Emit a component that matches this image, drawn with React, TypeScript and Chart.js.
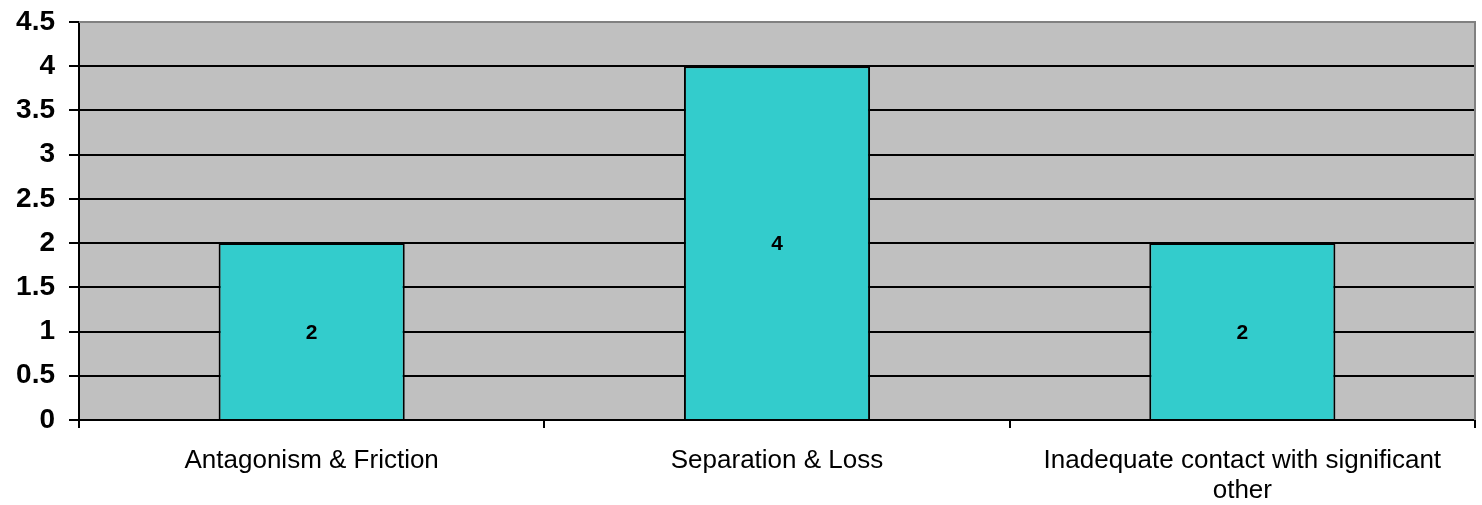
import React, { useEffect, useRef } from "react";
import { Chart, registerables } from "chart.js";

Chart.register(...registerables);

const categories: (string | string[])[] = [
  "Antagonism & Friction",
  "Separation & Loss",
  ["Inadequate contact with significant", "other"],
];
const values: number[] = [2, 4, 2];
const yMin = 0;
const yMax = 4.5;
const yStep = 0.5;

const FONT = "'Liberation Sans', Arial, Helvetica, sans-serif";

const plotBg = {
  id: "plotBg",
  beforeDraw(chart: any) {
    const { ctx, chartArea: a } = chart;
    ctx.save();
    ctx.fillStyle = "#C0C0C0";
    ctx.fillRect(a.left, a.top, a.right - a.left, a.bottom - a.top);
    ctx.restore();
  },
  afterDraw(chart: any) {
    const { ctx, chartArea: a } = chart;
    ctx.save();
    ctx.strokeStyle = "#808080";
    ctx.lineWidth = 2;
    ctx.beginPath();
    ctx.moveTo(a.left, a.top);
    ctx.lineTo(a.right, a.top);
    ctx.lineTo(a.right, a.bottom);
    ctx.stroke();
    ctx.restore();
  },
};

const barLabels = {
  id: "barLabels",
  afterDatasetsDraw(chart: any) {
    const { ctx } = chart;
    const meta = chart.getDatasetMeta(0);
    ctx.save();
    ctx.fillStyle = "#000";
    ctx.font = `bold 21px ${FONT}`;
    ctx.textAlign = "center";
    ctx.textBaseline = "middle";
    meta.data.forEach((bar: any, i: number) => {
      const { x, y, base } = bar.getProps(["x", "y", "base"], true);
      ctx.fillText(String(values[i]), x, (y + base) / 2 + 2);
    });
    ctx.restore();
  },
};

export default function App() {
  const ref = useRef<HTMLCanvasElement>(null);
  useEffect(() => {
    document.body.style.margin = "0";
    const chart = new Chart(ref.current!, {
      type: "bar",
      data: {
        labels: categories,
        datasets: [
          {
            data: values,
            backgroundColor: "#33CCCC",
            borderColor: "#000",
            borderWidth: 2,
            barPercentage: 0.4,
            categoryPercentage: 1,
          },
        ],
      },
      options: {
        animation: false,
        responsive: true,
        maintainAspectRatio: false,
        layout: { padding: { top: 22, right: 7, left: 0, bottom: 0 } },
        plugins: {
          legend: { display: false },
          tooltip: { enabled: false },
        },
        scales: {
          x: {
            offset: true,
            grid: {
              offset: true,
              drawOnChartArea: false,
              drawTicks: true,
              tickLength: 8,
              color: "#000",
              lineWidth: 2,
            },
            border: { color: "#000", width: 2 },
            ticks: {
              color: "#000",
              font: { family: FONT, size: 26, lineHeight: 1.15 },
              padding: 18,
              maxRotation: 0,
              autoSkip: false,
            },
            afterFit(scale: any) {
              scale.height = 85;
              scale.paddingLeft = 0;
              scale.paddingRight = 0;
            },
          },
          y: {
            min: yMin,
            max: yMax,
            grid: {
              color: (c: any) => (c.tick && c.tick.value === yMax ? "#808080" : "#000"),
              tickColor: "#000",
              lineWidth: 2,
              tickLength: 10,
            },
            border: { color: "#000", width: 2 },
            ticks: {
              stepSize: yStep,
              color: "#000",
              font: { family: FONT, size: 28, weight: "bold" },
              padding: 14,
              callback: (v: any) => String(Number(v)),
            },
            afterFit(scale: any) {
              scale.width = 79;
              scale.paddingTop = 0;
              scale.paddingBottom = 0;
            },
          },
        },
      },
      plugins: [plotBg, barLabels],
    });
    return () => chart.destroy();
  }, []);
  return (
    <div style={{ width: 1482, height: 505, position: "relative" }}>
      <canvas ref={ref} />
    </div>
  );
}
